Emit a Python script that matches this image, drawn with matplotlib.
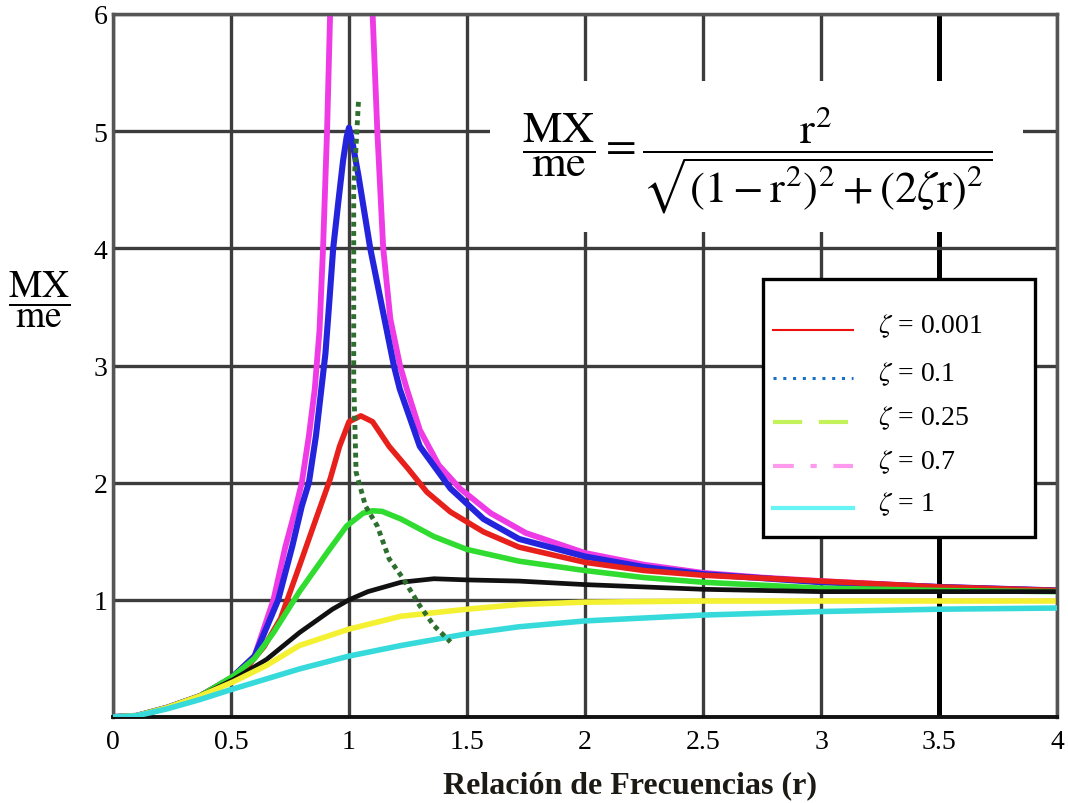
import numpy as np
import matplotlib.pyplot as plt
from matplotlib.patches import Rectangle
from matplotlib.lines import Line2D

plt.rcParams['font.family'] = ['Liberation Serif', 'DejaVu Serif']
plt.rcParams['mathtext.fontset'] = 'stix'

# curves (r, MX/me)
x_magenta = [0, 0.1, 0.23, 0.37, 0.5, 0.6, 0.68, 0.73, 0.77, 0.80, 0.83, 0.855, 0.875, 0.89,
             0.907, 0.92, 0.93, 1.0, 1.09, 1.10, 1.12, 1.145, 1.175, 1.216, 1.245, 1.30,
             1.38, 1.47, 1.6, 1.75, 2.0, 2.25, 2.5, 2.75, 3.0, 3.5, 4.0]
y_magenta = [0, 0.01, 0.08, 0.18, 0.33, 0.52, 1.0, 1.45, 1.75, 2.0, 2.4, 2.8, 3.3, 4.0,
             5.0, 6.0, 6.6, 12, 6.6, 6.0, 5.0, 4.0, 3.4, 3.0, 2.8, 2.45,
             2.15, 1.95, 1.74, 1.57, 1.40, 1.30, 1.23, 1.19, 1.16, 1.11, 1.08]

x_blue = [0, 0.1, 0.23, 0.37, 0.5, 0.6, 0.70, 0.76, 0.80, 0.83, 0.86, 0.88, 0.90, 0.915,
          0.933, 0.955, 0.975, 0.99, 1.0, 1.015, 1.04, 1.09, 1.14, 1.19, 1.215, 1.30, 1.43,
          1.57, 1.72, 2.0, 2.25, 2.5, 3.0, 3.5, 4.0]
y_blue = [0, 0.01, 0.08, 0.18, 0.33, 0.52, 1.0, 1.46, 1.8, 2.0, 2.4, 2.75, 3.1, 3.5,
          4.0, 4.4, 4.75, 4.95, 5.03, 4.9, 4.62, 4.0, 3.5, 3.0, 2.8, 2.31, 1.95,
          1.69, 1.52, 1.37, 1.28, 1.22, 1.15, 1.11, 1.08]

x_red = [0, 0.1, 0.23, 0.37, 0.5, 0.57, 0.64, 0.71, 0.79, 0.86, 0.92, 0.96, 1.0, 1.05, 1.10,
         1.17, 1.25, 1.33, 1.43, 1.57, 1.72, 2.0, 2.25, 2.5, 3.0, 3.5, 4.0]
y_red = [0, 0.01, 0.08, 0.18, 0.33, 0.43, 0.6, 0.84, 1.29, 1.69, 2.03, 2.31, 2.52, 2.57, 2.52,
         2.31, 2.12, 1.92, 1.75, 1.58, 1.45, 1.32, 1.25, 1.21, 1.16, 1.11, 1.08]

x_green = [0, 0.1, 0.23, 0.37, 0.51, 0.6, 0.68, 0.79, 0.91, 0.99, 1.06, 1.10, 1.14, 1.22,
           1.36, 1.5, 1.72, 2.0, 2.25, 2.5, 3.0, 3.5, 4.0]
y_green = [0, 0.01, 0.08, 0.18, 0.35, 0.5, 0.72, 1.07, 1.41, 1.63, 1.74, 1.76, 1.755, 1.69,
           1.54, 1.43, 1.33, 1.25, 1.19, 1.15, 1.10, 1.08, 1.07]

x_black = [0, 0.1, 0.23, 0.37, 0.51, 0.65, 0.79, 0.93, 1.0, 1.08, 1.22, 1.36, 1.5, 1.72,
           2.0, 2.5, 3.0, 3.5, 4.0]
y_black = [0, 0.01, 0.08, 0.18, 0.32, 0.49, 0.72, 0.92, 1.0, 1.07, 1.15, 1.18, 1.17, 1.16,
           1.13, 1.09, 1.07, 1.07, 1.07]

x_yellow = [0, 0.1, 0.23, 0.37, 0.51, 0.65, 0.79, 1.0, 1.22, 1.5, 1.72, 2.0, 2.5, 3.0, 3.5, 4.0]
y_yellow = [0, 0.01, 0.08, 0.18, 0.30, 0.44, 0.61, 0.75, 0.86, 0.92, 0.96, 0.98, 0.99, 0.99,
            0.99, 0.99]

x_cyan = [0, 0.1, 0.23, 0.37, 0.51, 0.79, 1.0, 1.22, 1.5, 1.72, 2.0, 2.5, 3.0, 3.5, 4.0]
y_cyan = [0, 0.01, 0.07, 0.15, 0.24, 0.41, 0.52, 0.61, 0.71, 0.77, 0.82, 0.87, 0.90, 0.92, 0.93]

# dotted locus line
x_locus = [1.04, 1.02, 1.02, 1.02, 1.03, 1.07, 1.12, 1.17, 1.23, 1.30, 1.36, 1.43]
y_locus = [5.25, 4.5, 3.5, 2.88, 2.09, 1.8, 1.63, 1.35, 1.18, 0.95, 0.78, 0.64]

x_ticks = [0, 0.5, 1, 1.5, 2, 2.5, 3, 3.5, 4]
x_ticklabels = ['0', '0.5', '1', '1.5', '2', '2.5', '3', '3.5', '4']
y_ticks = [1, 2, 3, 4, 5, 6]

leg_labels = [r'$\zeta$ = 0.001', r'$\zeta$ = 0.1', r'$\zeta$ = 0.25', r'$\zeta$ = 0.7', r'$\zeta$ = 1']
leg_colors = ['#ee1111', '#1a6fc4', '#c4f25a', '#ff99ee', '#66f4f4']
leg_styles = ['-', (0, (1, 2.2)), (0, (7, 4)), (0, (5, 4, 1.5, 4)), '-']
leg_widths = [1.5, 2.2, 3, 3, 3]

W, H = 1068, 804
fig = plt.figure(figsize=(W / 100, H / 100), dpi=100)
ax = fig.add_axes([113 / W, 1 - 718 / H, (1057 - 113) / W, (718 - 15) / H])

def fx(px):
    return px / W

def fy(py):
    return 1 - py / H

kw = dict(solid_joinstyle='round', solid_capstyle='round')
ax.plot(x_magenta, y_magenta, color='#ee3be6', lw=4.2, zorder=2, **kw)
ax.plot(x_blue, y_blue, color='#2424dd', lw=4.4, zorder=2.1, **kw)
ax.plot(x_red, y_red, color='#e8201c', lw=4, zorder=2.2, **kw)
ax.plot(x_green, y_green, color='#2fdc2f', lw=4, zorder=2.3, **kw)
ax.plot(x_black, y_black, color='#111111', lw=3.4, zorder=2.4, **kw)
ax.plot(x_yellow, y_yellow, color='#f4f032', lw=4, zorder=2.5, **kw)
ax.plot(x_cyan, y_cyan, color='#36dada', lw=4, zorder=2.6, **kw)
ax.plot(x_locus, y_locus, color='#2e6e2e', lw=3.5, ls=(0, (1, 0.9)), zorder=2.7)

ax.set_xlim(0, 4)
ax.set_ylim(0, 6)
ax.set_xticks(x_ticks)
ax.set_xticklabels(x_ticklabels)
ax.set_yticks(y_ticks)
ax.tick_params(length=0, labelsize=20)
ax.tick_params(axis='x', pad=9)
ax.tick_params(axis='y', pad=4)

ax.set_axisbelow(True)
ax.grid(True, color='#3c3c3c', lw=2.4)
ax.get_xgridlines()[7].set_color('black')
ax.get_xgridlines()[7].set_linewidth(3.6)
for s in ['top', 'right', 'left']:
    ax.spines[s].set_color('#555555')
    ax.spines[s].set_linewidth(2.5)
ax.spines['bottom'].set_color('#111111')
ax.spines['bottom'].set_linewidth(2.8)

fig.text(fx(630), fy(786), 'Relación de Frecuencias (r)', fontsize=23, fontweight='bold',
         color='#1c1a14', ha='center', va='center')

fig.text(fx(39), fy(300), r'$\dfrac{\mathrm{MX}}{\mathrm{me}}$', fontsize=27,
         ha='center', va='center')

# formula box
ax.add_patch(Rectangle((fx(490), fy(233)), fx(1023 - 490), (233 - 82) / H,
                       transform=fig.transFigure, facecolor='white', edgecolor='none',
                       zorder=3))
ax.text(fx(757), fy(160),
        r'$\dfrac{\mathrm{MX}}{\mathrm{me}} = \dfrac{\mathrm{r}^2}{\sqrt{(1-\mathrm{r}^2)^2+(2\zeta\mathrm{r})^2}}$',
        transform=fig.transFigure, fontsize=32, ha='center', va='center', zorder=4)

# legend box
ax.add_patch(Rectangle((fx(763), fy(538)), fx(1035 - 763), (538 - 280) / H,
                       transform=fig.transFigure, facecolor='white', edgecolor='black',
                       lw=2.4, zorder=5))
row_y = [326, 374, 418, 462, 504]
for lab, c, st, w, py in zip(leg_labels, leg_colors, leg_styles, leg_widths, row_y):
    ax.add_line(Line2D([fx(773), fx(853)], [fy(py + 5), fy(py + 5)], color=c, ls=st, lw=w,
                       transform=fig.transFigure, zorder=6))
    ax.text(fx(878), fy(py), lab, transform=fig.transFigure, fontsize=20,
            ha='left', va='center', zorder=6)

fig.savefig('out.png', dpi=100)
